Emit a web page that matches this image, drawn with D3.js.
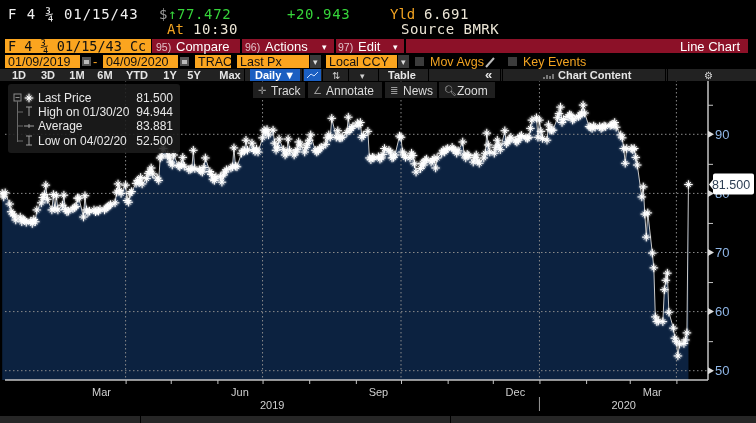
<!DOCTYPE html>
<html>
<head>
<meta charset="utf-8">
<script src="https://cdn.jsdelivr.net/npm/d3@7"></script>
<style>
  body { margin: 0; background: #000; }
  svg { display: block; }
  text { font-family: "Liberation Sans", Arial, sans-serif; }
  .mono { font-family: "DejaVu Sans Mono", monospace; }
</style>
</head>
<body>
<svg id="chart" width="756" height="423"></svg>
<script>
// daily prices, one array per month (weekdays only)
const jan19 = [80.0, 79.4, 80.1, 78.2, 76.9, 76.5, 76.2, 75.5, 76.0, 75.2, 75.6, 75.4, 75.1, 75.3, 74.9, 75.6, 75.2];
const feb19 = [77.2, 78.4, 79.3, 79.8, 81.4, 79.0, 77.2, 79.8, 77.4, 79.6, 77.2, 78.0, 79.7, 77.3, 76.9, 77.0, 77.4, 77.6, 77.8, 79.2];
const mar19 = [79.2, 76.0, 79.6, 77.2, 76.8, 77.0, 77.2, 76.9, 77.1, 77.0, 77.3, 77.2, 77.5, 77.7, 77.9, 78.1, 78.4, 80.2, 81.6, 80.5, 80.0];
const apr19 = [81.4, 78.8, 78.5, 80.0, 80.3, 81.7, 82.2, 81.8, 82.7, 81.6, 82.5, 83.4, 83.7, 84.3, 83.3, 82.6, 82.2, 86.0, 86.3, 87.6, 86.5, 86.0];
const may19 = [85.3, 84.8, 86.5, 84.7, 84.5, 84.9, 86.1, 84.6, 84.0, 84.1, 84.2, 87.3, 84.2, 84.0, 83.8, 83.6, 84.4, 86.0, 83.7, 83.2, 82.4, 82.2, 82.8];
const jun19 = [82.8, 81.9, 83.1, 83.6, 84.0, 84.3, 84.5, 87.7, 84.6, 84.5, 86.8, 87.3, 87.2, 89.0, 87.3, 88.5, 87.4, 87.1, 87.5, 87.0];
const jul19 = [89.4, 90.7, 90.4, 90.8, 89.9, 90.7, 88.5, 87.3, 87.8, 89.2, 87.4, 86.5, 86.8, 89.2, 87.3, 86.5, 87.0, 87.4, 88.7, 88.2, 87.0, 87.8, 88.4];
const aug19 = [89.0, 89.9, 87.3, 87.0, 87.2, 87.6, 87.8, 88.3, 89.4, 89.9, 89.5, 92.7, 89.5, 90.6, 89.4, 89.4, 89.5, 90.3, 92.9, 90.7, 91.0, 91.3];
const sep19 = [91.9, 91.5, 92.0, 89.5, 89.8, 90.5, 86.0, 85.7, 86.1, 86.0, 86.2, 85.8, 86.0, 86.6, 87.6, 87.3, 87.0, 86.0, 86.1, 86.5, 89.7];
const oct19 = [89.5, 87.0, 86.5, 86.1, 86.0, 86.8, 86.4, 85.0, 83.6, 84.2, 85.1, 84.8, 85.6, 85.8, 85.3, 85.6, 85.9, 84.3, 86.0, 86.8, 87.3, 87.0, 87.4];
const nov19 = [87.6, 87.8, 87.4, 87.3, 86.8, 87.2, 88.7, 86.5, 86.0, 86.6, 86.4, 85.3, 86.1, 86.5, 85.5, 85.1, 86.0, 86.8, 90.2, 88.2, 87.0];
const dec19 = [86.8, 87.8, 89.0, 88.2, 87.4, 90.6, 88.4, 88.7, 89.2, 89.5, 88.9, 88.7, 89.0, 89.6, 89.8, 89.4, 89.3, 89.5, 91.0, 92.4, 92.8, 89.5];
const jan20 = [92.4, 90.5, 89.3, 89.0, 91.6, 90.8, 90.7, 90.7, 92.8, 93.5, 94.6, 92.0, 92.5, 93.0, 93.3, 93.2, 92.4, 92.6, 93.0, 93.2, 93.6, 94.944, 93.6];
const feb20 = [91.3, 91.2, 91.0, 91.4, 91.2, 91.3, 91.0, 91.2, 91.4, 91.3, 91.5, 91.6, 91.7, 92.0, 91.2, 89.9, 89.4, 87.6, 85.1, 87.6];
const mar20 = [87.6, 87.4, 87.6, 86.1, 84.8, 79.4, 81.1, 76.5, 72.6, 76.7, 69.9, 67.4, 59.1, 58.3, 58.4, 58.3, 63.7, 65.3, 66.5, 59.9, 57.2, 55.5];
const apr20 = [54.9, 52.5, 54.5, 54.6, 55.2, 56.4, 81.5];

const monthStarts = ["2019-01-09", "2019-02-01", "2019-03-01", "2019-04-01", "2019-05-01", "2019-06-01",
  "2019-07-01", "2019-08-01", "2019-09-01", "2019-10-01", "2019-11-01", "2019-12-01",
  "2020-01-01", "2020-02-01", "2020-03-01", "2020-04-01"];
const monthSeries = [jan19, feb19, mar19, apr19, may19, jun19, jul19, aug19, sep19, oct19, nov19, dec19, jan20, feb20, mar20, apr20];

const yMajor = [50, 60, 70, 80, 90];
const yMinor = [55, 65, 75, 85, 95];
const gridDates = ["2019-04-01", "2019-07-01", "2019-10-01", "2020-01-01", "2020-04-01"];
const monthLabels = ["Mar", "Jun", "Sep", "Dec", "Mar"];
const monthLabelDates = ["2019-03-16", "2019-06-16", "2019-09-16", "2019-12-16", "2020-03-16"];
const yearLabels = ["2019", "2020"];
const legendNames = ["Last Price", "High on 01/30/20", "Average", "Low on 04/02/20"];
const legendValues = ["81.500", "94.944", "83.881", "52.500"];
const lastPrice = 81.5;

const P = d3.utcParse("%Y-%m-%d");
const data = [];
monthSeries.forEach((vals, i) => {
  const start = P(monthStarts[i]);
  const end = d3.utcMonth.offset(d3.utcMonth.floor(start), 1);
  const days = d3.utcDay.range(start, end).filter(d => d.getUTCDay() > 0 && d.getUTCDay() < 6);
  vals.forEach((v, j) => data.push({ date: days[j], value: v }));
});

const svg = d3.select("#chart");
svg.append("rect").attr("width", 756).attr("height", 423).attr("fill", "#000");

const defs = svg.append("defs");
const glow = defs.append("filter").attr("id", "glow").attr("x", "-50%").attr("y", "-50%").attr("width", "200%").attr("height", "200%");
glow.append("feGaussianBlur").attr("stdDeviation", 1).attr("result", "b");
const fm = glow.append("feMerge");
fm.append("feMergeNode").attr("in", "b");
fm.append("feMergeNode").attr("in", "SourceGraphic");

const x = d3.scaleUtc().domain([P("2019-04-01"), P("2020-04-01")]).range([125.6, 676.4]);
const y = d3.scaleLinear().domain([50, 90]).range([370.7, 134.3]);
const axisX = 708, baseY = 380, topY = 80, leftX = 5;

// ---------- area + grid ----------
const area = d3.area().x(d => x(d.date)).y0(baseY).y1(d => y(d.value));
svg.append("path").datum(data).attr("d", area).attr("fill", "#0c2240");

svg.append("g").selectAll("line").data(yMajor).join("line")
  .attr("x1", leftX).attr("x2", axisX).attr("y1", d => y(d)).attr("y2", d => y(d))
  .attr("stroke", "#8a8a8a").attr("stroke-width", 1).attr("stroke-dasharray", "1.5,2.5");
svg.append("g").selectAll("line").data(gridDates).join("line")
  .attr("x1", d => x(P(d))).attr("x2", d => x(P(d))).attr("y1", topY).attr("y2", baseY)
  .attr("stroke", "#8a8a8a").attr("stroke-width", 1).attr("stroke-dasharray", "1.5,2.5");

// ---------- price line + markers ----------
const line = d3.line().x(d => x(d.date)).y(d => y(d.value));
svg.append("path").datum(data).attr("d", line).attr("fill", "none")
  .attr("stroke", "#c9c9c9").attr("stroke-width", 1);

const mk = svg.append("g").attr("filter", "url(#glow)");
const plus = d3.symbol(d3.symbolPlus, 26)();
const times = d3.symbol(d3.symbolTimes, 16)();
const pts = mk.selectAll("g").data(data).join("g")
  .attr("transform", d => `translate(${x(d.date)},${y(d.value)})`);
pts.append("path").attr("d", plus).attr("fill", "none").attr("stroke", "#fff").attr("stroke-width", 1);
pts.append("path").attr("d", times).attr("fill", "none").attr("stroke", "#fff").attr("stroke-width", 1);

// ---------- axes ----------
svg.append("line").attr("x1", axisX).attr("x2", axisX).attr("y1", topY).attr("y2", baseY)
  .attr("stroke", "#c4c4c4").attr("stroke-width", 1.5);
svg.append("line").attr("x1", leftX).attr("x2", axisX).attr("y1", baseY).attr("y2", baseY)
  .attr("stroke", "#c4c4c4").attr("stroke-width", 1.5);

const yAx = svg.append("g").attr("transform", `translate(${axisX},0)`)
  .call(d3.axisRight(y).tickValues(yMinor).tickSize(5).tickFormat(""));
yAx.select(".domain").remove();
yAx.selectAll("line").attr("stroke", "#c4c4c4");

const yLab = svg.append("g").selectAll("g").data(yMajor).join("g")
  .attr("transform", d => `translate(${axisX},${y(d)})`);
yLab.append("path").attr("d", "M0,-3.5L6,0L0,3.5Z").attr("fill", "#dcdcdc");
yLab.append("text").attr("x", 7).attr("dy", "0.36em").attr("font-size", 13)
  .attr("fill", "#8fb6e6").text(d => d);

const xAx = svg.append("g").attr("transform", `translate(0,${baseY})`)
  .call(d3.axisBottom(x).ticks(d3.utcMonth.every(1)).tickSize(4).tickFormat(""));
xAx.select(".domain").remove();
xAx.selectAll(".tick").filter(d => x(d) < leftX).remove();
xAx.selectAll("line").attr("stroke", "#c4c4c4");

svg.append("g").selectAll("text").data(monthLabels).join("text")
  .attr("x", (d, i) => x(P(monthLabelDates[i]))).attr("y", 396)
  .attr("text-anchor", "middle").attr("font-size", 11).attr("fill", "#cfcfcf").text(d => d);

const yearBounds = yearLabels.map(yr => {
  const a = Math.max(leftX, x(P(yr + "-01-01")));
  const b = Math.min(axisX, x(P((+yr + 1) + "-01-01")));
  return (a + b) / 2;
});
svg.append("g").selectAll("text").data(yearLabels).join("text")
  .attr("x", (d, i) => yearBounds[i]).attr("y", 409)
  .attr("text-anchor", "middle").attr("font-size", 11).attr("fill", "#cfcfcf").text(d => d);
svg.append("line").attr("x1", x(P("2020-01-01"))).attr("x2", x(P("2020-01-01")))
  .attr("y1", 397).attr("y2", 411).attr("stroke", "#9a9a9a");

svg.append("rect").attr("x", 0).attr("y", 416).attr("width", 756).attr("height", 7).attr("fill", "#262626");
svg.append("rect").attr("x", 140).attr("y", 416).attr("width", 1).attr("height", 7).attr("fill", "#000");
svg.append("rect").attr("x", 450).attr("y", 416).attr("width", 1).attr("height", 7).attr("fill", "#000");

// last price callout (covers the upper half of the 80 label, as in the terminal)
const ly = y(lastPrice);
svg.append("path")
  .attr("d", `M${axisX + 1},${ly}L${axisX + 5},${ly - 5}L${axisX + 5},${ly - 9}Q${axisX + 5},${ly - 11} ${axisX + 7},${ly - 11}L752,${ly - 11}Q754,${ly - 11} 754,${ly - 9}L754,${ly + 8}Q754,${ly + 10} 752,${ly + 10}L${axisX + 7},${ly + 10}Q${axisX + 5},${ly + 10} ${axisX + 5},${ly + 8}L${axisX + 5},${ly + 5}Z`)
  .attr("fill", "#fff");
svg.append("text").attr("x", 731).attr("y", ly).attr("dy", "0.36em").attr("text-anchor", "middle")
  .attr("font-size", 12.5).attr("fill", "#2f4055").text(lastPrice.toFixed(3));

// ---------- legend ----------
const lg = svg.append("g");
lg.append("rect").attr("x", 8).attr("y", 84).attr("width", 172).attr("height", 69).attr("rx", 3)
  .attr("fill", "#1c1c1c").attr("fill-opacity", 0.88);
const rowsY = [102, 116, 130, 145];
lg.append("rect").attr("x", 14).attr("y", 94).attr("width", 7).attr("height", 7).attr("fill", "none").attr("stroke", "#8a8a8a");
lg.append("line").attr("x1", 15.5).attr("x2", 19.5).attr("y1", 97.5).attr("y2", 97.5).attr("stroke", "#8a8a8a");
lg.append("line").attr("x1", 17.5).attr("x2", 17.5).attr("y1", 101).attr("y2", 142).attr("stroke", "#6a6a6a");
rowsY.slice(1).forEach(ry => lg.append("line").attr("x1", 17.5).attr("x2", 23).attr("y1", ry - 4).attr("y2", ry - 4).attr("stroke", "#6a6a6a"));
// symbols
const s0 = lg.append("g").attr("transform", `translate(29,${rowsY[0] - 4})`).attr("filter", "url(#glow)");
s0.append("path").attr("d", plus).attr("stroke", "#fff").attr("fill", "none");
s0.append("path").attr("d", times).attr("stroke", "#fff").attr("fill", "none");
lg.append("path").attr("d", `M26,${rowsY[1] - 9}h6M29,${rowsY[1] - 9}v9`).attr("stroke", "#a0a0a0").attr("fill", "none");
lg.append("path").attr("d", `M24,${rowsY[2] - 4}h10M29,${rowsY[2] - 6}v4`).attr("stroke", "#a0a0a0").attr("fill", "none");
lg.append("path").attr("d", `M26,${rowsY[3] - 9}h6M29,${rowsY[3] - 9}v9M26,${rowsY[3]}h6`).attr("stroke", "#a0a0a0").attr("fill", "none");
lg.selectAll("text.n").data(legendNames).join("text").attr("class", "n")
  .attr("x", 38).attr("y", (d, i) => rowsY[i]).attr("font-size", 12).attr("fill", "#e8e8e8").text(d => d);
lg.selectAll("text.v").data(legendValues).join("text").attr("class", "v")
  .attr("x", 173).attr("y", (d, i) => rowsY[i]).attr("text-anchor", "end").attr("font-size", 12).attr("fill", "#e8e8e8").text(d => d);

// ---------- header ----------
const hd = svg.append("g");
function t(xp, yp, s, col, size, cls) {
  return hd.append("text").attr("x", xp).attr("y", yp).attr("fill", col).attr("font-size", size)
    .attr("class", cls || null).text(s);
}
t(8, 18.5, "F 4 ¾ 01/15/43", "#f0f0f0", 14, "mono").attr("letter-spacing", 0.9);
t(159, 18.5, "$", "#9a9a9a", 14, "mono");
t(168, 18.5, "↑77.472", "#36d43a", 14, "mono").attr("letter-spacing", 0.6);
t(287, 18.5, "+20.943", "#36d43a", 14, "mono").attr("letter-spacing", 0.6);
t(390, 18.5, "Yld", "#f2a321", 14, "mono");
t(424, 18.5, "6.691", "#ece6d6", 14, "mono").attr("letter-spacing", 0.6);
t(167, 34, "At", "#f2a321", 14, "mono");
t(193, 34, "10:30", "#ece6d6", 14, "mono").attr("letter-spacing", 0.6);
t(401, 34, "Source BMRK", "#ece6d6", 14, "mono").attr("letter-spacing", 0.5);

// row 3
hd.append("rect").attr("x", 5).attr("y", 39).attr("width", 146).attr("height", 14).attr("fill", "#fba51f");
t(8, 51, "F 4 ¾ 01/15/43 Cc", "#111", 13.5, "mono");
hd.append("rect").attr("x", 152).attr("y", 39).attr("width", 596).attr("height", 14).attr("fill", "#8c1128");
[240, 334, 404].forEach(sx => hd.append("rect").attr("x", sx).attr("y", 39).attr("width", 2).attr("height", 14).attr("fill", "#000"));
t(156, 50.5, "95)", "#e0c0c6", 10.5);
t(176, 51, "Compare", "#fff", 13);
t(245, 50.5, "96)", "#e0c0c6", 10.5);
t(265, 51, "Actions", "#fff", 13);
t(322, 50, "▾", "#fff", 9);
t(338, 50.5, "97)", "#e0c0c6", 10.5);
t(358, 51, "Edit", "#fff", 13);
t(393, 50, "▾", "#fff", 9);
t(740, 51, "Line Chart", "#fff", 13).attr("text-anchor", "end");

// row 4
function obox(x0, w, s) {
  hd.append("rect").attr("x", x0).attr("y", 55).attr("width", w).attr("height", 13).attr("fill", "#fba51f");
  t(x0 + 3, 66, s, "#111", 12.5);
}
function cal(x0) {
  hd.append("rect").attr("x", x0).attr("y", 57).attr("width", 9).attr("height", 9).attr("fill", "#555");
  hd.append("rect").attr("x", x0 + 2).attr("y", 60).attr("width", 5).attr("height", 4).attr("fill", "#bbb");
}
function dd(x0) {
  hd.append("rect").attr("x", x0).attr("y", 55).attr("width", 11).attr("height", 13).attr("fill", "#3a3a3a");
  t(x0 + 2.5, 65, "▾", "#ddd", 9);
}
obox(5, 75, "01/09/2019"); cal(82);
t(93, 66, "-", "#fba51f", 13);
obox(103, 75, "04/09/2020"); cal(180);
obox(195, 36, "TRAC");
obox(237, 72, "Last Px"); dd(310);
obox(326, 71, "Local CCY"); dd(398);
hd.append("rect").attr("x", 415).attr("y", 57).attr("width", 9).attr("height", 9).attr("fill", "#3c3c3c");
t(430, 66, "Mov Avgs", "#f2a321", 12.5);
hd.append("path").attr("d", "M486,67L494,58").attr("stroke", "#bbb").attr("stroke-width", 2);
hd.append("rect").attr("x", 508).attr("y", 57).attr("width", 9).attr("height", 9).attr("fill", "#3c3c3c");
t(523, 66, "Key Events", "#f2a321", 12.5);

// row 5
hd.append("rect").attr("x", 0).attr("y", 69).attr("width", 756).attr("height", 12).attr("fill", "#222");
const periods = ["1D", "3D", "1M", "6M", "YTD", "1Y", "5Y", "Max"];
const periodX = [19, 48, 77, 105, 137, 170, 194, 230];
periods.forEach((p, i) => t(periodX[i], 79, p, "#e6e6e6", 11).attr("text-anchor", "middle").attr("font-weight", "bold"));
hd.append("rect").attr("x", 250).attr("y", 69).attr("width", 50).attr("height", 12).attr("fill", "#1b5fc1");
t(255, 79, "Daily ▼", "#fff", 11).attr("font-weight", "bold");
hd.append("rect").attr("x", 304).attr("y", 69).attr("width", 17).attr("height", 12).attr("fill", "#1b5fc1");
hd.append("path").attr("d", "M307,78L311,74L314,76L318,72").attr("stroke", "#cfe0ff").attr("fill", "none");
t(332, 79, "⇅", "#cfcfcf", 10);
t(360, 79, "▾", "#cfcfcf", 9);
t(388, 79, "Table", "#e6e6e6", 11).attr("font-weight", "bold");
t(485, 79, "«", "#e6e6e6", 13).attr("font-weight", "bold");
[244, 302, 322, 348, 378, 428, 500, 502, 665, 667].forEach(sx =>
  hd.append("rect").attr("x", sx).attr("y", 69).attr("width", 1).attr("height", 12).attr("fill", "#000"));
hd.append("path").attr("d", "M544,79v-2M547,79v-4M550,79v-3M553,79v-5").attr("stroke", "#cfcfcf");
t(558, 79, "Chart Content", "#e6e6e6", 11).attr("font-weight", "bold");
t(708, 79, "⚙", "#dcdcdc", 10).attr("text-anchor", "middle");

// row 6 toolbar
const tools = [[253, 52, "✛", "Track"], [308, 74, "∠", "Annotate"], [385, 52, "≣", "News"], [439, 56, "🔍︎", "Zoom"]];
tools.forEach(([x0, w, ic, s]) => {
  hd.append("rect").attr("x", x0).attr("y", 82).attr("width", w).attr("height", 16).attr("fill", "#1f1f1f");
  t(x0 + 5, 94, ic, "#9a9a9a", 10);
  t(x0 + 18, 94.5, s, "#dcdcdc", 12);
});
</script>
</body>
</html>
